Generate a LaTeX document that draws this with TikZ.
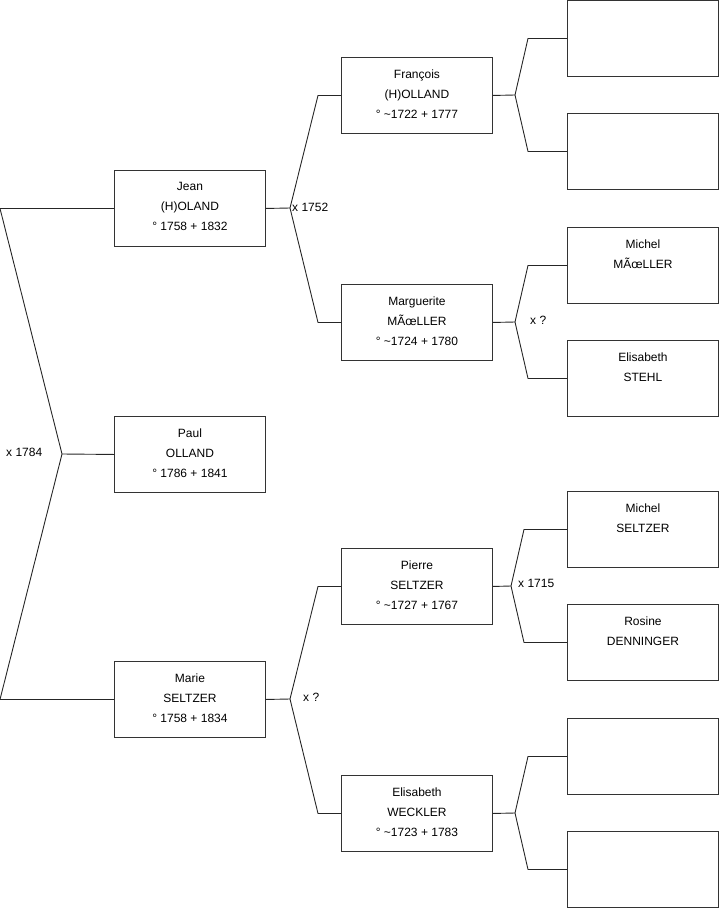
\documentclass[tikz,border=0pt]{standalone}
\usepackage{fontspec}
\setmainfont{Liberation Sans}
\usetikzlibrary{positioning}

\newcommand{\card}[1]{\parbox[c][52pt][t]{146pt}{\centering #1}}

\begin{document}
\begin{tikzpicture}[
			x=1pt,y=-1pt,
			font=\fontsize{12}{20}\selectfont,
			person/.style={rectangle,draw=black!80,line width=0.9pt,minimum width=151pt,
				minimum height=76pt,inner sep=0pt,anchor=north west},
			link/.style={draw=black!85,line width=0.9pt,line join=round},
			wedlock/.style={anchor=west,inner sep=0pt},
			]
			\useasboundingbox (0,0) rectangle (719,908);
			
			% Child and parents
			\node[person] (jean)  at (114,170) {\card{Jean\\(H)OLAND\\° 1758 + 1832}};
			\node[person] (paul)  at (114,416) {\card{Paul\\OLLAND\\° 1786 + 1841}};
			\node[person] (marie) at (114,661) {\card{Marie\\SELTZER\\° 1758 + 1834}};
			
			% Grandparents
			\node[person] (francois)   at (341,57)  {\card{François\\(H)OLLAND\\° \textasciitilde1722 + 1777}};
			\node[person] (marguerite) at (341,284) {\card{Marguerite\\MÃ\oe{}LLER\\° \textasciitilde1724 + 1780}};
			\node[person] (pierre)     at (341,548) {\card{Pierre\\SELTZER\\° \textasciitilde1727 + 1767}};
			\node[person] (elisabethw) at (341,775) {\card{Elisabeth\\WECKLER\\° \textasciitilde1723 + 1783}};
			
			% Great-grandparents
			\node[person] (ff) at (567,0)   {};
			\node[person] (fm) at (567,113) {};
			\node[person] (michelm)    at (567,227) {\card{Michel\\MÃ\oe{}LLER}};
			\node[person] (elisabeths) at (567,340) {\card{Elisabeth\\STEHL}};
			\node[person] (michels)    at (567,491) {\card{Michel\\SELTZER}};
			\node[person] (rosine)     at (567,604) {\card{Rosine\\DENNINGER}};
			\node[person] (wf) at (567,718) {};
			\node[person] (wm) at (567,831) {};
			
			% Fork points
			\coordinate (xp) at (62,454);
			\coordinate (xj) at (290,208);
			\coordinate (xm) at (290,699);
			\coordinate (xf) at (515,95);
			\coordinate (xg) at (515,322);
			\coordinate (xs) at (511,586);
			\coordinate (xw) at (515,813);
			
			% Connections
			\draw[link] (jean.west) -- ++(-114,0) -- (xp) -- ([xshift=-114pt]marie.west) -- (marie.west);
			\draw[link] (xp) -- (paul.west);
			
			\draw[link] (jean.east) -- (xj);
			\draw[link] (francois.west) -- ++(-23,0) -- (xj) -- ([xshift=-23pt]marguerite.west) -- (marguerite.west);
			\draw[link] (marie.east) -- (xm);
			\draw[link] (pierre.west) -- ++(-23,0) -- (xm) -- ([xshift=-23pt]elisabethw.west) -- (elisabethw.west);
			
			\draw[link] (francois.east) -- (xf);
			\draw[link] (ff.west) -- ++(-39,0) -- (xf) -- ([xshift=-39pt]fm.west) -- (fm.west);
			\draw[link] (marguerite.east) -- (xg);
			\draw[link] (michelm.west) -- ++(-39,0) -- (xg) -- ([xshift=-39pt]elisabeths.west) -- (elisabeths.west);
			\draw[link] (pierre.east) -- (xs);
			\draw[link] (michels.west) -- ++(-43,0) -- (xs) -- ([xshift=-43pt]rosine.west) -- (rosine.west);
			\draw[link] (elisabethw.east) -- (xw);
			\draw[link] (wf.west) -- ++(-39,0) -- (xw) -- ([xshift=-39pt]wm.west) -- (wm.west);
			
			% Marriage labels
			\node[wedlock] (wedp) at (6,452)   {x 1784};
			\node[wedlock] (wedj) at (292,207) {x 1752};
			\node[wedlock] (wedm) at (303,697) {x ?};
			\node[wedlock] (wedg) at (530,320) {x ?};
			\node[wedlock] (weds) at (518,583) {x 1715};
			
		\end{tikzpicture}
\end{document}
